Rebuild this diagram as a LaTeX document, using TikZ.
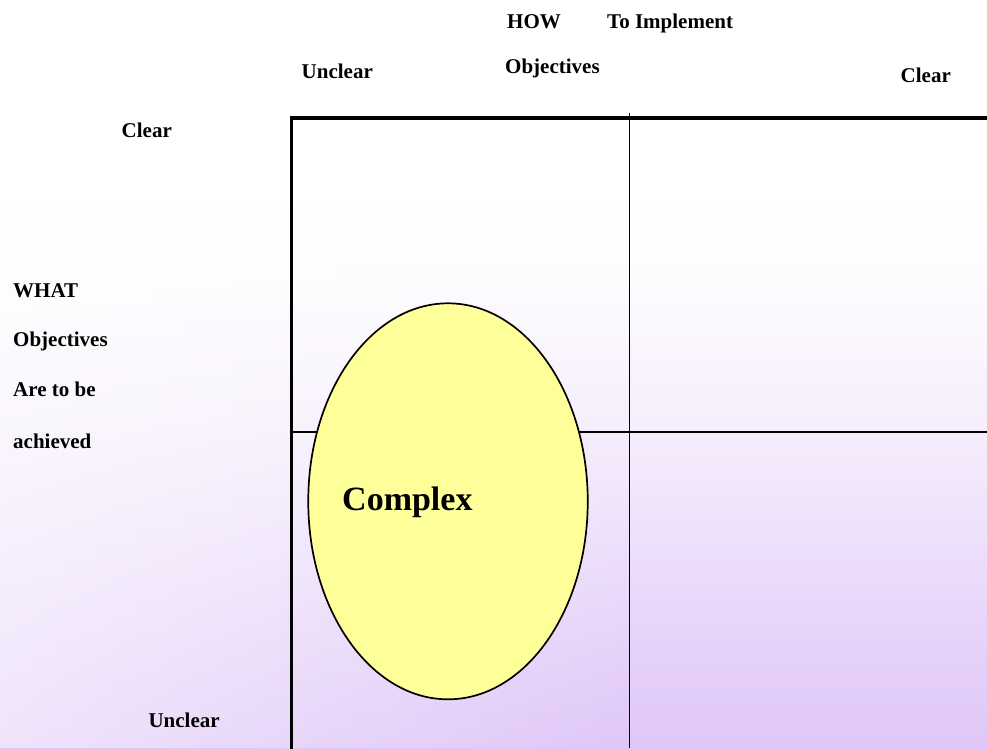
\documentclass[tikz,border=0pt]{standalone}
\usepackage{fontspec}
\setmainfont{Liberation Serif}
\usetikzlibrary{shapes.geometric,fadings}
\definecolor{bgA}{RGB}{223,198,248}
\definecolor{bgB}{RGB}{234,216,250}
\definecolor{bgC}{RGB}{245,237,252}
\definecolor{bgD}{RGB}{252,250,254}
\definecolor{ovalfill}{RGB}{255,255,153}
\pgfdeclareverticalshading{bgshade}{100bp}{color(0bp)=(bgA); color(25bp)=(bgA); color(35bp)=(bgB); color(46bp)=(bgC); color(55bp)=(bgD); color(62bp)=(white); color(100bp)=(white)}
\tikzset{
  lbl/.style={anchor=base west, inner sep=0pt, font=\fontsize{21}{25}\selectfont\bfseries},
  biglbl/.style={anchor=base west, inner sep=0pt, font=\fontsize{34}{40}\selectfont\bfseries},
  thickline/.style={line width=3.2pt, line join=miter, line cap=rect},
  thinline/.style={line width=1.8pt},
  oval/.style={ellipse, draw, line width=1.7pt, fill=ovalfill, inner sep=0pt, minimum width=279.5pt, minimum height=396pt}
}
\begin{document}
\begin{tikzpicture}[x=1pt,y=-1pt]
\useasboundingbox (0,0) rectangle (987,748);
\shade[shading=bgshade] (0,0) rectangle (987,748);
\fill[white, fill opacity=0.65, path fading=east] (-150,0) rectangle (640,748);
% grid coordinates
\coordinate (tr) at (987,118);
\coordinate (tl) at (291.5,118);
\coordinate (bl) at (291.5,748);
\coordinate (mt) at (629.5,113);
\coordinate (mb) at (629.5,748);
\coordinate (hl) at (291.5,432);
\coordinate (hr) at (987,432);
\draw[thickline] (tr) -- (tl) -- (bl);
\draw[thinline] (mt) -- (mb);
\draw[thinline] (hl) -- (hr);
% oval
\node[oval] (complexoval) at (448,501.3) {};
\node[biglbl] (complex) at (342,510) {Complex};
% labels
\node[lbl] (how) at (507,28) {HOW};
\node[lbl] (toimpl) at (607,28) {To Implement};
\node[lbl] (objtop) at (505,73) {Objectives};
\node[lbl] (uncleartop) at (301.5,78) {Unclear};
\node[lbl] (cleartop) at (900.5,82.3) {Clear};
\node[lbl] (clearleft) at (121.5,137.3) {Clear};
\node[lbl] (what) at (13,297) {WHAT};
\node[lbl] (objleft) at (13,346.5) {Objectives};
\node[lbl] (aretobe) at (13,396) {Are to be};
\node[lbl] (achieved) at (13,448) {achieved};
\node[lbl] (unclearbot) at (148.3,727.3) {Unclear};
\end{tikzpicture}
\end{document}
